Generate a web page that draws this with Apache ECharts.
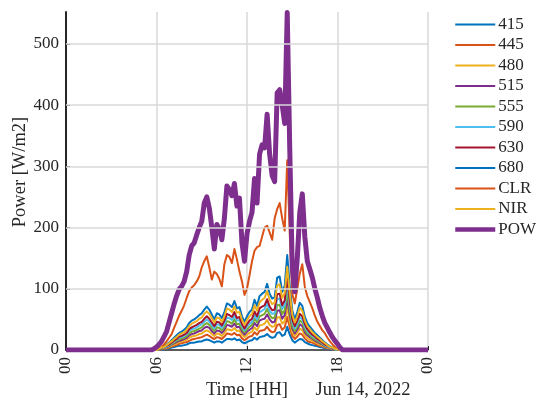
<!DOCTYPE html>
<html><head><meta charset="utf-8">
<script src="https://cdn.jsdelivr.net/npm/echarts@6/dist/echarts.min.js"></script>
<style>html,body{margin:0;padding:0;background:#fff}#c{width:536px;height:401px}</style>
</head><body><div id="c"></div>
<script>
// time of each sample, minutes after midnight (Jun 14, 2022)
const minutes = [0,340,350,360,370,380,390,400,410,420,430,440,450,460,470,480,490,500,510,520,530,540,550,560,570,580,590,600,610,620,630,640,650,660,670,680,690,700,710,720,730,740,750,760,770,780,790,800,810,820,830,840,850,860,870,880,890,900,910,920,930,940,950,960,970,980,990,1000,1010,1020,1030,1040,1050,1060,1070,1080,1090,1100,1110,1440];

const s415 = [0,0,0,0,0,1,1,2,3,4,5,6,7,7,8,9,11,12,12,13,14,14,16,17,16,14,12,14,14,12,15,18,18,17,19,16,17,13,11,13,15,16,20,17,21,22,23,26,22,20,21,28,29,23,25,38,25,16,12,15,18,17,13,11,9,8,7,6,5,4,3,2,1,1,0,0,0,0,0,0];
const s445 = [0,0,0,0,1,1,2,3,4,6,7,8,10,11,12,13,15,17,18,19,20,21,23,25,23,20,18,21,20,18,22,27,26,25,28,24,25,19,16,19,22,23,29,25,31,32,33,38,32,29,30,41,42,33,37,54,37,23,18,22,27,25,19,15,13,12,10,8,7,6,4,3,2,1,1,0,0,0,0,0];
const s480 = [0,0,0,0,1,2,3,4,5,7,9,11,13,14,15,17,20,22,23,24,26,27,30,32,30,26,23,27,26,23,28,34,33,32,36,31,32,25,21,25,28,30,37,32,40,41,43,49,41,38,39,53,54,43,47,70,47,29,23,28,35,32,24,20,17,15,13,11,9,7,5,4,3,2,1,0,0,0,0,0];
const s515 = [0,0,0,0,1,2,3,5,6,9,11,13,15,16,18,20,24,26,27,29,31,32,36,38,36,31,27,32,31,28,33,41,40,38,43,37,38,30,25,30,33,36,44,39,48,50,51,58,50,45,46,64,65,51,57,84,57,35,27,33,42,39,29,24,21,18,15,13,11,9,6,5,3,2,1,1,0,0,0,0];
const s555 = [0,0,0,0,1,2,4,6,7,10,12,15,17,19,20,23,27,30,31,33,35,37,41,44,41,36,31,37,36,32,38,47,46,43,50,42,43,34,29,34,38,41,51,45,55,57,59,67,57,52,53,73,74,59,65,96,65,40,31,38,48,45,33,27,24,20,17,15,12,10,7,6,4,2,1,1,0,0,0,0];
const s590 = [0,0,0,0,1,3,4,6,8,11,14,17,20,21,23,26,31,34,35,37,40,42,46,50,46,41,35,42,41,36,43,53,52,49,56,48,49,39,32,39,43,46,57,50,62,64,67,76,64,59,60,83,84,67,74,109,74,46,35,43,54,50,38,31,27,23,20,17,14,11,8,6,4,3,1,1,0,0,0,0];
const s630 = [0,0,0,0,2,3,5,7,9,12,15,18,22,23,25,28,34,37,39,41,44,46,51,55,51,45,39,46,45,40,48,59,57,54,62,52,54,42,35,42,48,51,63,55,68,71,73,83,71,65,66,91,92,73,81,119,81,50,39,48,59,55,42,34,29,25,22,18,15,12,9,7,5,3,2,1,0,0,0,0];
const s680 = [0,0,0,0,2,4,6,9,12,16,20,24,28,30,33,37,44,48,50,53,57,60,66,71,66,58,50,60,58,52,62,76,74,70,80,68,70,55,46,55,62,66,82,72,88,92,95,108,92,84,86,118,120,95,105,155,105,65,50,62,77,72,54,44,38,33,28,24,20,16,12,9,6,4,2,1,0,0,0,0];
const sCLR = [0,0,0,0,2,5,9,14,20,26,36,46,56,64,73,85,96,102,106,112,120,135,145,153,135,115,128,124,116,104,140,155,152,142,165,148,128,112,90,100,122,145,162,168,170,185,200,203,192,180,215,230,240,215,195,310,190,92,76,100,125,140,103,88,78,68,56,46,39,32,27,20,14,9,5,1,0,0,0,0];
const sNIR = [0,0,0,0,2,4,5,8,11,14,18,21,25,27,29,33,39,43,45,47,51,53,59,63,59,52,45,53,52,46,55,68,66,62,71,61,62,49,41,49,55,59,73,64,78,82,85,96,82,75,77,105,107,85,93,136,93,58,45,55,69,64,48,39,34,29,25,21,18,14,11,8,5,4,2,1,0,0,0,0];
const sPOW = [0,0,2,5,9,14,22,30,45,60,75,88,99,104,112,128,155,170,175,188,200,210,240,250,232,200,165,205,198,180,215,268,262,252,272,235,248,175,145,190,210,225,280,240,320,335,330,385,320,285,275,420,425,400,370,551,330,135,95,150,225,255,185,145,132,118,100,85,68,55,44,36,28,21,15,10,4,0,0,0];

const names = ['415','445','480','515','555','590','630','680','CLR','NIR','POW'];
const values = [s415,s445,s480,s515,s555,s590,s630,s680,sCLR,sNIR,sPOW];
const colors = ['#0072BD','#D95319','#EDB120','#7E2F8E','#77AC30','#4DBEEE','#A2142F','#0072BD','#D95319','#EDB120','#7E2F8E'];
const widths = [2,2,2,2,2,2,2,2,2,2,5];
const xTickLabels = ['00','06','12','18','00'];
const yGridValues = [100,200,300,400,500];

const FONT = 'Liberation Serif';
const chart = echarts.init(document.getElementById('c'), null, {renderer:'canvas'});

const series = [{
  type:'line', name:'_grid', data:[], silent:true, z:1,
  markLine:{silent:true, symbol:'none', animation:false, label:{show:false},
    lineStyle:{color:'#d9d9d9', width:1.5, type:'solid'},
    data: yGridValues.map(v => ({yAxis:v}))}
}];
names.forEach((n,i) => {
  series.push({
    type:'line', name:n, symbol:'none', showSymbol:false, animation:false,
    color: colors[i],
    lineStyle:{width:widths[i], color:colors[i], join:'round'},
    data: minutes.map((m,k) => [m, values[i][k]])
  });
});

chart.setOption({
  animation:false,
  backgroundColor:'#fff',
  grid:{left:66, right:108, top:12, bottom:51, containLabel:false},
  legend:{
    data:names.map((n,i) => ({name:n, lineStyle:{width: i === 10 ? 4.5 : 2}})),
    orient:'vertical', left:453, top:16,
    itemWidth:40, itemHeight:14, itemGap:3.5, padding:0,
    itemStyle:{opacity:0, borderWidth:0},
    textStyle:{fontFamily:FONT, fontSize:17, color:'#262626', padding:[0,0,0,-2]}
  },
  xAxis:{
    type:'value', min:0, max:1440, interval:360,
    axisLine:{lineStyle:{color:'#262626', width:1.5}},
    axisTick:{inside:true, length:4, lineStyle:{color:'#262626'}},
    axisLabel:{rotate:90, margin:7, fontFamily:FONT, fontSize:17, color:'#262626',
      formatter: v => xTickLabels[Math.round(v/360)]},
    splitLine:{show:true, lineStyle:{color:'#d9d9d9', width:1.5}}
  },
  yAxis:{
    type:'value', min:0, max:552, interval:100,
    axisLine:{show:true, lineStyle:{color:'#262626', width:2}},
    axisTick:{show:true, inside:true, length:4, lineStyle:{color:'#262626'}},
    axisLabel:{margin:7, fontFamily:FONT, fontSize:17, color:'#262626', showMaxLabel:false},
    splitLine:{show:false}
  },
  graphic:[
    {type:'text', x:247, y:390, style:{text:'Time [HH]', font:'18.5px "Liberation Serif"', fill:'#262626', textAlign:'center', textVerticalAlign:'middle'}},
    {type:'text', x:363, y:390, style:{text:'Jun 14, 2022', font:'18.5px "Liberation Serif"', fill:'#262626', textAlign:'center', textVerticalAlign:'middle'}},
    {type:'text', x:20, y:172, rotation:Math.PI/2, style:{text:'Power [W/m2]', font:'18.5px "Liberation Serif"', fill:'#262626', textAlign:'center', textVerticalAlign:'middle'}}
  ],
  series: series
});
</script>
</body></html>
